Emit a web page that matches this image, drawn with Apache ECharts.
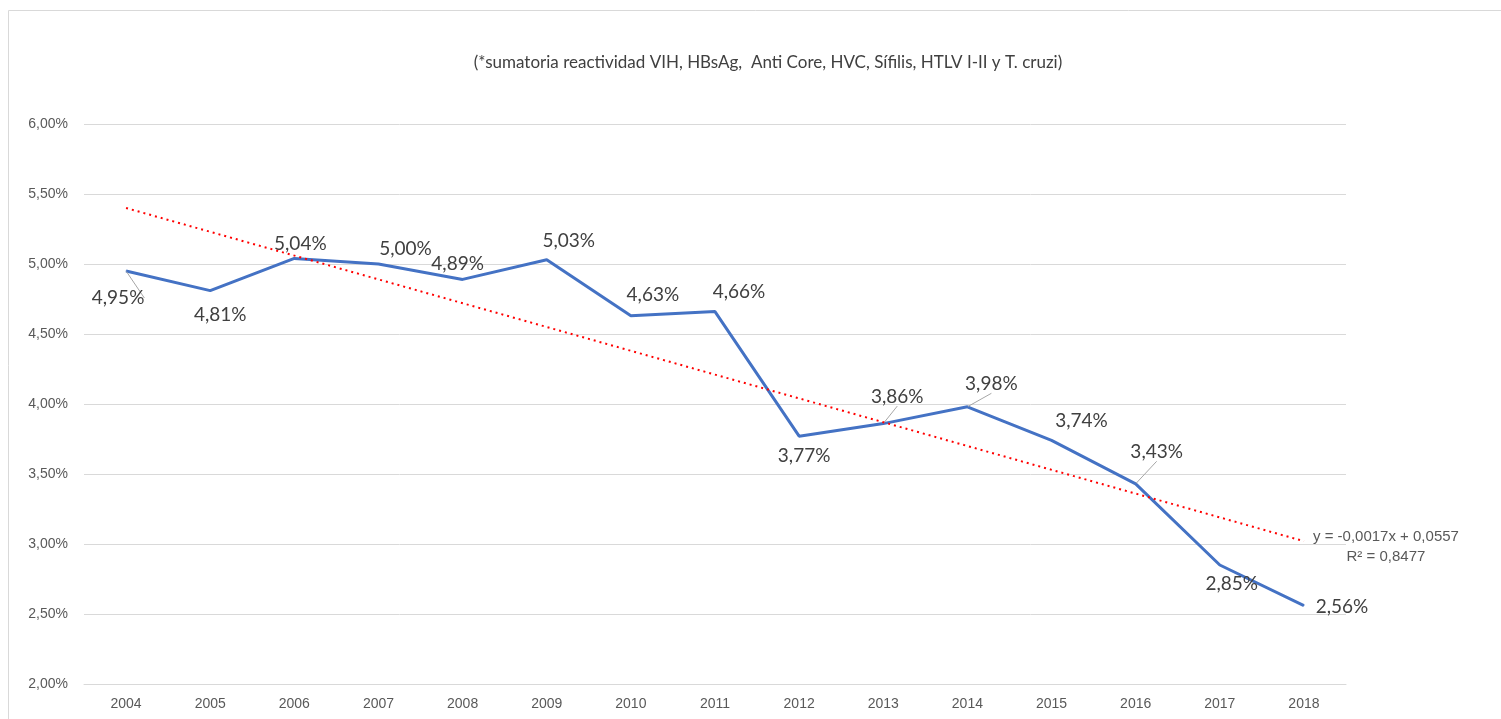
<!DOCTYPE html>
<html>
<head>
<meta charset="utf-8">
<script src="https://cdn.jsdelivr.net/npm/echarts@6/dist/echarts.min.js"></script>
<style>
  html, body { margin: 0; padding: 0; background: #fff; }
  #chart { width: 1501px; height: 719px; }
</style>
</head>
<body>
<div id="chart"></div>
<script>
var years = ['2004','2005','2006','2007','2008','2009','2010','2011','2012','2013','2014','2015','2016','2017','2018'];
var reactividad = [4.95, 4.81, 5.04, 5.00, 4.89, 5.03, 4.63, 4.66, 3.77, 3.86, 3.98, 3.74, 3.43, 2.85, 2.56];
// linear trend (start and end of the dotted line)
var tendencia = [[0, 5.40], [14, 3.02]];
var trendText = 'y = -0,0017x + 0,0557\nR² = 0,8477';
var yTicks = { min: 2, max: 6, interval: 0.5 };

// where Excel moved each data label (px, relative to the point)
var labelOffsets = [[-8,27],[10,24],[6,-15],[27,-15],[-5,-16],[22,-19],[22,-21],[24,-20],
                    [5,20],[14,-27],[24,-23],[30,-20],[21,-32],[12,19],[38,1]];
var leaderLines = [0, 9, 10, 12];

function pct(v) {
    return v.toFixed(2).replace('.', ',') + '%';
}

var myChart = echarts.init(document.getElementById('chart'));

var lineData = reactividad.map(function (v, i) {
    return {
        value: v,
        label: { offset: labelOffsets[i] },
        labelLine: { show: leaderLines.indexOf(i) >= 0 }
    };
});

var option = {
    animation: false,
    title: {
        text: '(*sumatoria reactividad VIH, HBsAg,  Anti Core, HVC, Sífilis, HTLV I-II y T. cruzi)',
        left: 763,
        top: 49,
        textAlign: 'center',
        textStyle: { fontFamily: 'Lato', fontSize: 17, fontWeight: 'normal', color: '#404040' }
    },
    graphic: [{
        type: 'rect',
        shape: { x: 8.5, y: 10.5, width: 1500, height: 720 },
        style: { fill: null, stroke: '#d9d9d9', lineWidth: 1 },
        silent: true
    }],
    grid: { left: 84, right: 155, top: 124, bottom: 35 },
    xAxis: {
        type: 'category',
        data: years,
        boundaryGap: true,
        axisLine: { lineStyle: { color: '#d9d9d9' } },
        axisTick: { show: false },
        axisLabel: { color: '#595959', fontSize: 14, fontFamily: 'Liberation Sans', margin: 13 }
    },
    yAxis: {
        type: 'value',
        min: yTicks.min,
        max: yTicks.max,
        interval: yTicks.interval,
        axisLine: { show: false },
        axisTick: { show: false },
        splitLine: { lineStyle: { color: '#d9d9d9' } },
        axisLabel: {
            color: '#595959', fontSize: 14, fontFamily: 'Liberation Sans', margin: 16,
            formatter: function (v) { return pct(v); }
        }
    },
    series: [
        {
            name: 'tendencia',
            type: 'line',
            data: tendencia,
            symbol: 'none',
            lineStyle: { color: '#ff0000', width: 2, type: [2, 4] },
            silent: true,
            z: 3,
            endLabel: {
                show: true,
                formatter: trendText,
                align: 'center',
                distance: 0,
                offset: [82, 6],
                color: '#595959',
                fontSize: 15,
                fontFamily: 'Liberation Sans',
                lineHeight: 20
            }
        },
        {
            name: 'reactividad',
            type: 'line',
            data: lineData,
            symbol: 'circle',
            symbolSize: 1,
            itemStyle: { color: '#4472c4' },
            lineStyle: { color: '#4472c4', width: 3 },
            z: 2,
            label: {
                show: true,
                position: 'inside',
                color: '#404040',
                fontSize: 19,
                fontFamily: 'Lato',
                formatter: function (p) { return pct(p.value); }
            },
            labelLine: { show: false, lineStyle: { color: '#a6a6a6', width: 1 } }
        }
    ]
};

myChart.setOption(option);
</script>
</body>
</html>
